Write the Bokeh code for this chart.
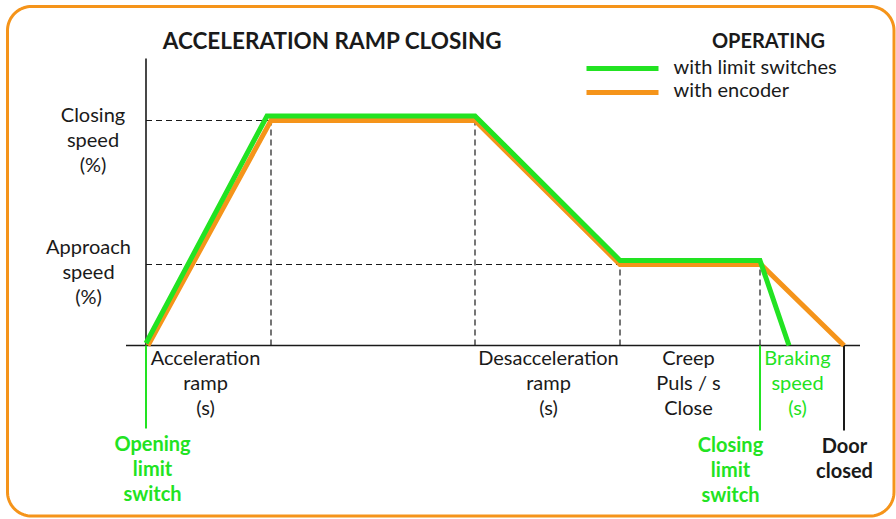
import numpy as np
from bokeh.plotting import figure
from bokeh.models import Range1d
from bokeh.core.properties import value
from bokeh.embed import file_html
from bokeh.resources import INLINE

# ---------------- data (time in s, speed in %) ----------------
time_encoder = [0.04, 2.5, 6.58, 9.48, 12.3, 13.96]
speed_encoder = [0, 100, 100, 36, 36, 0]
time_switches = [0.0, 2.42, 6.58, 9.48, 12.28, 12.86]
speed_switches = [1.0, 102, 102, 37.8, 37.8, 0]

closing_speed = 100
approach_speed = 36
accel_end = 2.5
decel_start = 6.58
decel_end = 9.48
creep_end = 12.28
door_closed_time = 13.96
axis_time = [-0.4, 14.28]
axis_speed_top = 127.6

title_text = "ACCELERATION RAMP CLOSING"
legend_title = "OPERATING"
legend_labels = ["with limit switches", "with encoder"]
y_labels = ["Closing\nspeed\n(%)", "Approach\nspeed\n(%)"]
phase_labels = ["Acceleration\nramp\n(s)", "Desacceleration\nramp\n(s)",
                "Creep\nPuls / s\nClose", "Braking\nspeed\n(s)"]
event_labels = ["Opening\nlimit\nswitch", "Closing\nlimit\nswitch", "Door\nclosed"]

# ---------------- style / layout ----------------
GREEN = "#22e322"
ORANGE = "#f5941a"
BLACK = "#1a1a1a"
FONT = value("Lato")
W, H, PAGE = 896, 519, 0
X0, Y0, SX, SY = 145.5, 345.0, 50.0, 2.25
TEXT_DY = -2


def tx(px):
    return (px - X0) / SX


def sy(py):
    return (Y0 - py) / SY


p = figure(width=W, height=H, output_backend="svg", toolbar_location=None,
           x_range=Range1d(tx(PAGE), tx(PAGE + W)),
           y_range=Range1d(sy(PAGE + H), sy(PAGE)),
           x_axis_location=None, y_axis_location=None, min_border=0)
p.grid.visible = False
p.outline_line_color = None
p.background_fill_color = "white"
p.border_fill_color = "white"

# rounded border
L, R, T, B, RAD = 7.0, 893.5, 6.0, 515.5, 24.0
bx, by = [], []
for cx, cy, a0 in [(R - RAD, T + RAD, -90), (R - RAD, B - RAD, 0),
                   (L + RAD, B - RAD, 90), (L + RAD, T + RAD, 180)]:
    ang = np.radians(np.linspace(a0, a0 + 90, 20))
    bx += list(cx + RAD * np.cos(ang))
    by += list(cy + RAD * np.sin(ang))
bx.append(bx[0]); by.append(by[0])
p.line([tx(v) for v in bx], [sy(v) for v in by], line_color=ORANGE, line_width=3)

# axes
p.segment(x0=[0, axis_time[0]], y0=[0, 0], x1=[0, axis_time[1]], y1=[axis_speed_top, 0],
          line_color=BLACK, line_width=1.6)

# dashed guides
dash = dict(line_color=BLACK, line_width=1.2, line_dash="6 4")
p.segment(x0=[0, 0], y0=[closing_speed, approach_speed],
          x1=[accel_end, decel_end], y1=[closing_speed, approach_speed], **dash)
p.segment(x0=[accel_end, decel_start, decel_end, creep_end], y0=[0, 0, 0, 0],
          x1=[accel_end, decel_start, decel_end, creep_end],
          y1=[closing_speed, closing_speed, approach_speed, approach_speed], **dash)

# event markers below axis
p.segment(x0=[0, creep_end], y0=[0, 0], x1=[0, creep_end], y1=[sy(428), sy(430)],
          line_color=GREEN, line_width=2)
p.segment(x0=[door_closed_time], y0=[0], x1=[door_closed_time], y1=[sy(430)],
          line_color=BLACK, line_width=2)

# curves
p.line(time_encoder, speed_encoder, line_color=ORANGE, line_width=5, line_join="miter")
p.line(time_switches, speed_switches, line_color=GREEN, line_width=5, line_join="miter")

# legend
p.segment(x0=[tx(586)] * 2, y0=[sy(68), sy(92)], x1=[tx(658)] * 2, y1=[sy(68), sy(92)],
          line_color=[GREEN, ORANGE], line_width=5)


def add_text(px, py, txt, color=BLACK, bold=False, size="20px", align="center", spacing=25):
    for i, line in enumerate(txt.split("\n")):
        p.text(x=[tx(px)], y=[sy(py + TEXT_DY + i * spacing)], text=[line], text_font=FONT,
               text_font_size=size, text_font_style="bold" if bold else "normal",
               text_align=align, text_baseline="middle", text_color=color)


add_text(332, 42, title_text, bold=True, size="22.5px")
add_text(768, 41, legend_title, bold=True, size="20px")
add_text(673, 67, legend_labels[0], align="left")
add_text(673, 90, legend_labels[1], align="left")

add_text(92.5, 115, y_labels[0])
add_text(88, 247, y_labels[1])

add_text(205, 358, phase_labels[0])
add_text(548, 358, phase_labels[1])
add_text(688, 358, phase_labels[2])
add_text(797, 358, phase_labels[3], color=GREEN)

add_text(152, 444, event_labels[0], color=GREEN, bold=True)
add_text(730, 445, event_labels[1], color=GREEN, bold=True)
add_text(844, 446, event_labels[2], bold=True)

open("out.html", "w").write(file_html(p, INLINE))
